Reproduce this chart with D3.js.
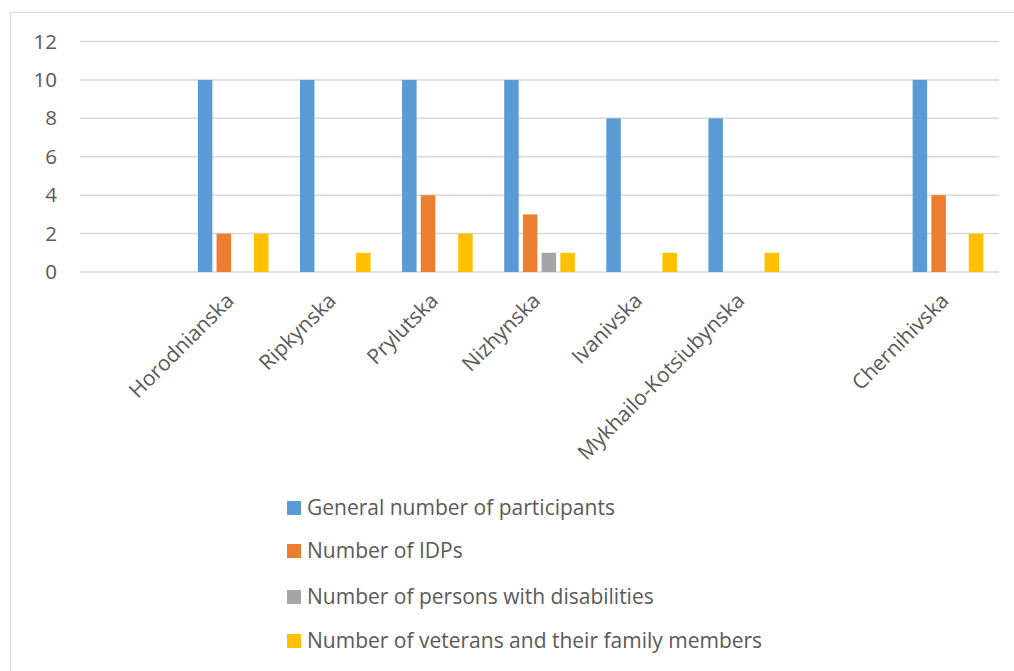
<!DOCTYPE html>
<html>
<head>
<meta charset="utf-8">
<script src="https://cdn.jsdelivr.net/npm/d3@7"></script>
<style>
  body { margin: 0; background: #fff; }
  text { font-family: "Open Sans", sans-serif; fill: #595959; }
</style>
</head>
<body>
<div id="chart"></div>
<script>
// categories (empty slots are kept as in the original sheet)
var categories = ["", "Horodnianska", "Ripkynska", "Prylutska", "Nizhynska", "Ivanivska", "Mykhailo-Kotsiubynska", " ", "Chernihivska"];
var seriesNames = ["General number of participants", "Number of IDPs", "Number of persons with disabilities", "Number of veterans and their family members"];
var colors = ["#5b9bd5", "#ed7d31", "#a5a5a5", "#ffc000"];
var general = [null, 10, 10, 10, 10, 8, 8, null, 10];
var idps = [null, 2, 0, 4, 3, 0, 0, null, 4];
var disabled = [null, 0, 0, 0, 1, 0, 0, null, 0];
var veterans = [null, 2, 1, 2, 1, 1, 1, null, 2];
var yTicks = [0, 2, 4, 6, 8, 10, 12];

var series = [general, idps, disabled, veterans];

var width = 1014, height = 671;
var svg = d3.select("#chart").append("svg")
  .attr("width", width)
  .attr("height", height);

// outer frame
svg.append("rect")
  .attr("x", 10.5).attr("y", 12.5)
  .attr("width", 1010).attr("height", 670)
  .attr("fill", "none")
  .attr("stroke", "#d9d9d9");

var plot = { left: 80, right: 999, top: 41.5, bottom: 272 };

var x = d3.scaleBand()
  .domain(categories)
  .range([plot.left, plot.right]);

var y = d3.scaleLinear()
  .domain([0, 12])
  .range([plot.bottom, plot.top]);

// gridlines
svg.append("g")
  .selectAll("line")
  .data(yTicks)
  .join("line")
  .attr("x1", plot.left).attr("x2", plot.right)
  .attr("y1", function (d) { return y(d); })
  .attr("y2", function (d) { return y(d); })
  .attr("stroke", "#d9d9d9")
  .attr("stroke-width", 1.5);

// y axis labels
var yAxis = svg.append("g")
  .attr("transform", "translate(" + (plot.left - 23) + ",0)")
  .call(d3.axisLeft(y).tickValues(yTicks).tickSize(0).tickPadding(0));
yAxis.select(".domain").remove();
yAxis.selectAll("text")
  .style("font-family", "'Open Sans', sans-serif")
  .style("font-size", "20.5px")
  .attr("fill", "#595959");

// bars
var barW = 14.5, step = 18.7;
var inner = d3.scaleBand().domain(d3.range(4)).range([0, step * 4]);

series.forEach(function (vals, si) {
  svg.append("g")
    .selectAll("rect")
    .data(vals.map(function (v, i) { return { cat: categories[i], v: v }; })
      .filter(function (d) { return d.v; }))
    .join("rect")
    .attr("x", function (d) {
      return x(d.cat) + x.bandwidth() / 2 - step * 2 + inner(si) + (step - barW) / 2;
    })
    .attr("width", barW)
    .attr("y", function (d) { return y(d.v); })
    .attr("height", function (d) { return y(0) - y(d.v); })
    .attr("fill", colors[si]);
});

// category labels, rotated
svg.append("g")
  .selectAll("text")
  .data(categories)
  .join("text")
  .attr("transform", function (d) {
    return "translate(" + (x(d) + x.bandwidth() / 2 + 2) + "," + (plot.bottom + 30) + ") rotate(-45)";
  })
  .attr("text-anchor", "end")
  .style("font-size", "21px")
  .text(function (d) { return d.trim(); });

// legend
var legend = svg.append("g");
var rowY = [508, 551, 597, 641];
seriesNames.forEach(function (name, i) {
  legend.append("rect")
    .attr("x", 287).attr("y", rowY[i] - 7)
    .attr("width", 14).attr("height", 14)
    .attr("fill", colors[i]);
  legend.append("text")
    .attr("x", 307).attr("y", rowY[i])
    .attr("dy", "0.35em")
    .style("font-size", "21px")
    .text(name);
});
</script>
</body>
</html>
